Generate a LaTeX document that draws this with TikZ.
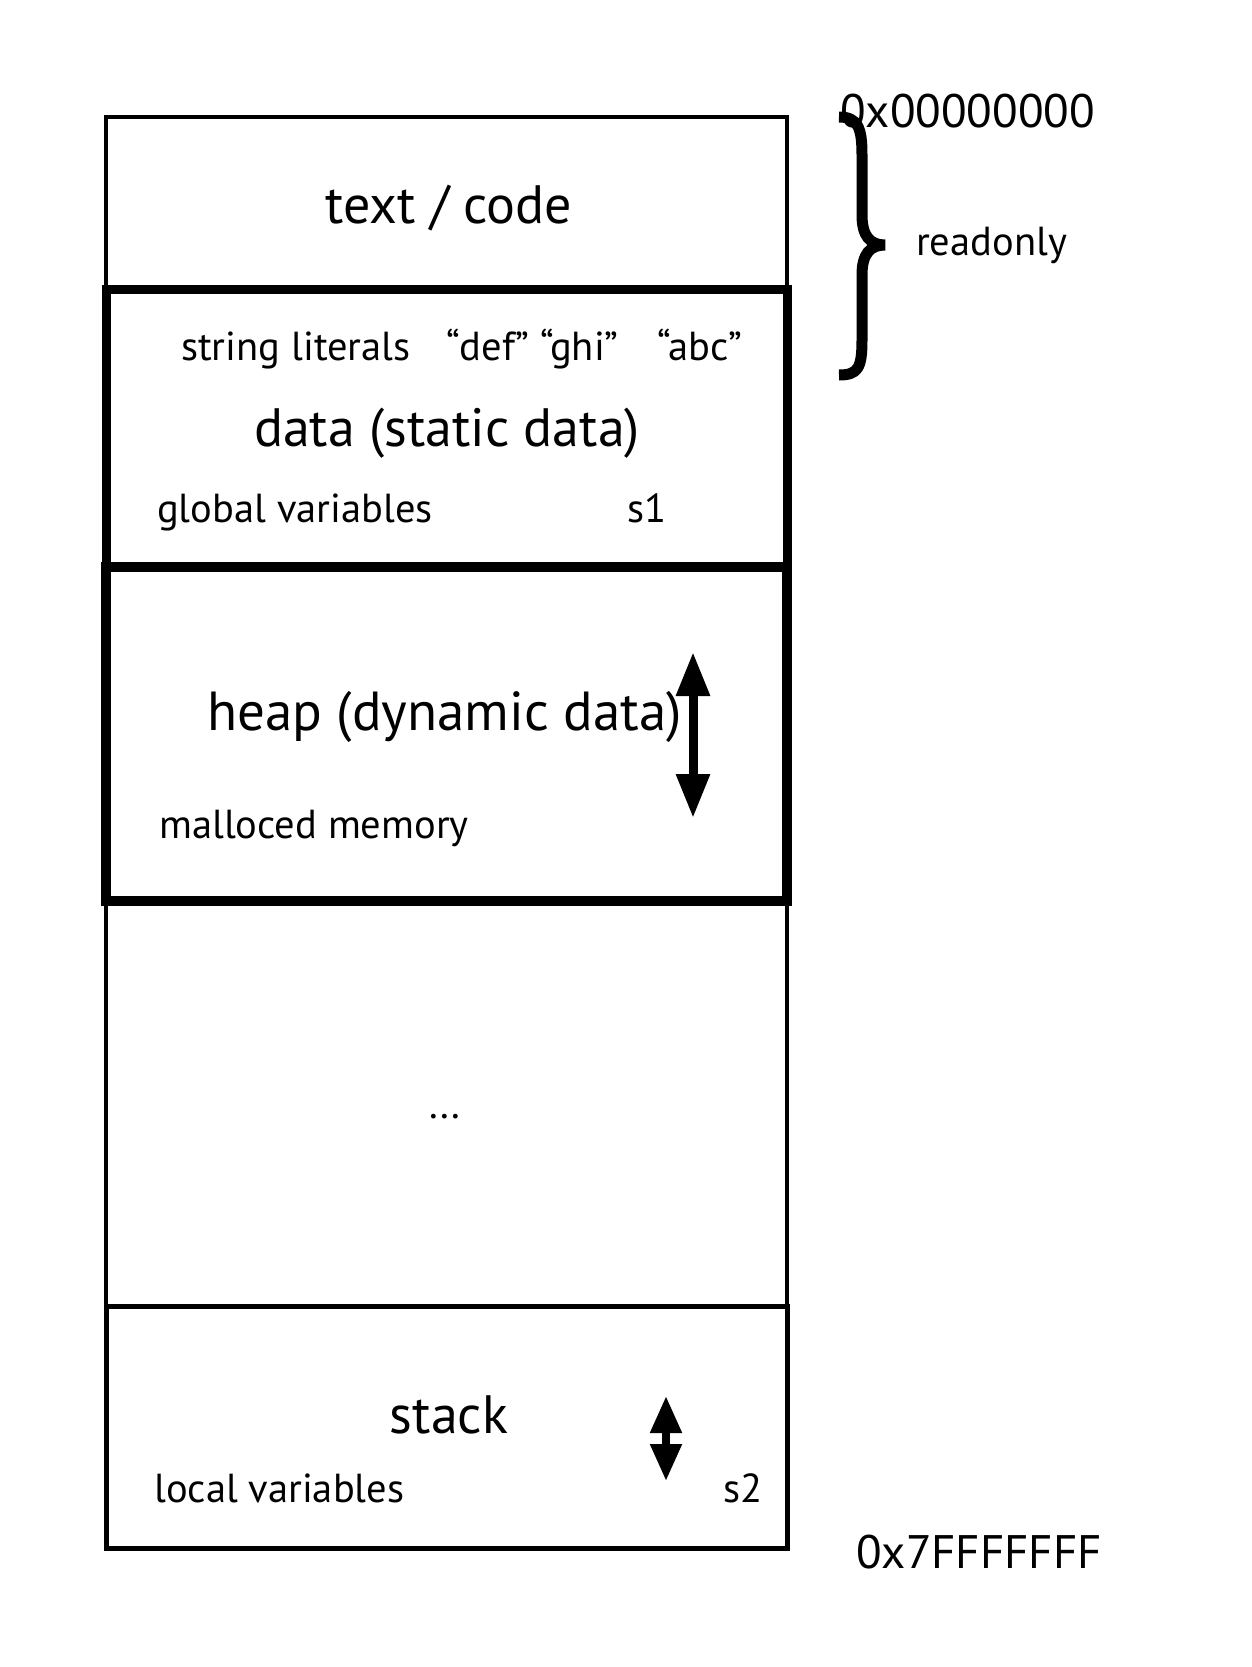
\documentclass[tikz,border=0pt]{standalone}
\usepackage{fontspec}
\setmainfont{PT Sans}
\usepackage{tikz}
\usetikzlibrary{arrows.meta,positioning}
\tikzset{
  seg/.style={draw, rectangle, inner sep=0pt, minimum width=681pt},
  thinseg/.style={seg, line width=4pt},
  thickseg/.style={seg, line width=10pt},
  seglabel/.style={font=\fontsize{54}{60}\selectfont, inner sep=0pt},
  note/.style={font=\fontsize{40.5}{46}\selectfont, inner sep=0pt},
  addr/.style={font=\fontsize{47}{53}\selectfont, inner sep=0pt},
  grows/.style={{Triangle[width=32pt,length=44pt]}-{Triangle[width=32pt,length=44pt]}, line width=9pt},
  growsmall/.style={{Triangle[width=30pt,length=37pt]}-{Triangle[width=30pt,length=37pt]}, line width=8pt}
}
\begin{document}
\begin{tikzpicture}[x=1pt, y=-1pt]
\useasboundingbox (0,0) rectangle (1251,1667);
% segments
\node[thinseg, minimum height=172pt] (codeseg) at (446.5,203) {};
\node[thinseg, minimum height=405pt] (gapseg) at (446.5,1103.5) {};
\node[seg, line width=5pt, minimum height=242pt] (stackseg) at (446.5,1427) {};
\node[seg, line width=9pt, minimum height=278pt] (dataseg) at (446.5,428) {};
\node[thickseg, minimum height=334pt] (heapseg) at (446.5,734) {};
% labels
\node[seglabel, anchor=base] (codelbl) at (449,223) {text / code};
\node[note, anchor=base west] (strlbl) at (181,360) {string literals};
\node[note, anchor=base west] (defghi) at (446,360) {“def” “ghi”};
\node[note, anchor=base west] (abc) at (657,360) {“abc”};
\node[seglabel, anchor=base] (datalbl) at (447,446) {data (static data)};
\node[note, anchor=base west] (globlbl) at (157,522) {global variables};
\node[note, anchor=base west] (sone) at (627,522) {s1};
\node[seglabel, font=\fontsize{55}{60}\selectfont, anchor=base west] (heaplbl) at (207,730) {heap (dynamic data)};
\node[note, anchor=base west] (malloclbl) at (159,838) {malloced memory};
\node[note, anchor=base] (dots) at (445,1118) {...};
\node[seglabel, anchor=base] (stacklbl) at (449,1433) {stack};
\node[note, anchor=base west] (locallbl) at (154,1502) {local variables};
\node[note, anchor=base west] (stwo) at (723,1502) {s2};
% addresses
\node[addr, anchor=base west] (lowaddr) at (840,128) {0x00000000};
\node[addr, anchor=base west] (highaddr) at (856,1568) {0x7FFFFFFF};
\node[note, anchor=base west] (rolbl) at (916,255) {readonly};
% brace
\draw[line width=11pt] (839,117) .. controls (858,117) and (862,128) .. (862,155)
  -- (862,215) .. controls (862,236) and (870,245) .. (885,245)
  .. controls (870,245) and (862,254) .. (862,275)
  -- (862,340) .. controls (862,368) and (858,375) .. (839,375);
% growth arrows
\coordinate (heaptop) at (693,652);
\coordinate (heapbot) at (693,818);
\draw[grows] (heaptop) -- (heapbot);
\coordinate (stacktop) at (666,1396);
\coordinate (stackbot) at (666,1481);
\draw[growsmall] (stacktop) -- (stackbot);
\end{tikzpicture}
\end{document}
